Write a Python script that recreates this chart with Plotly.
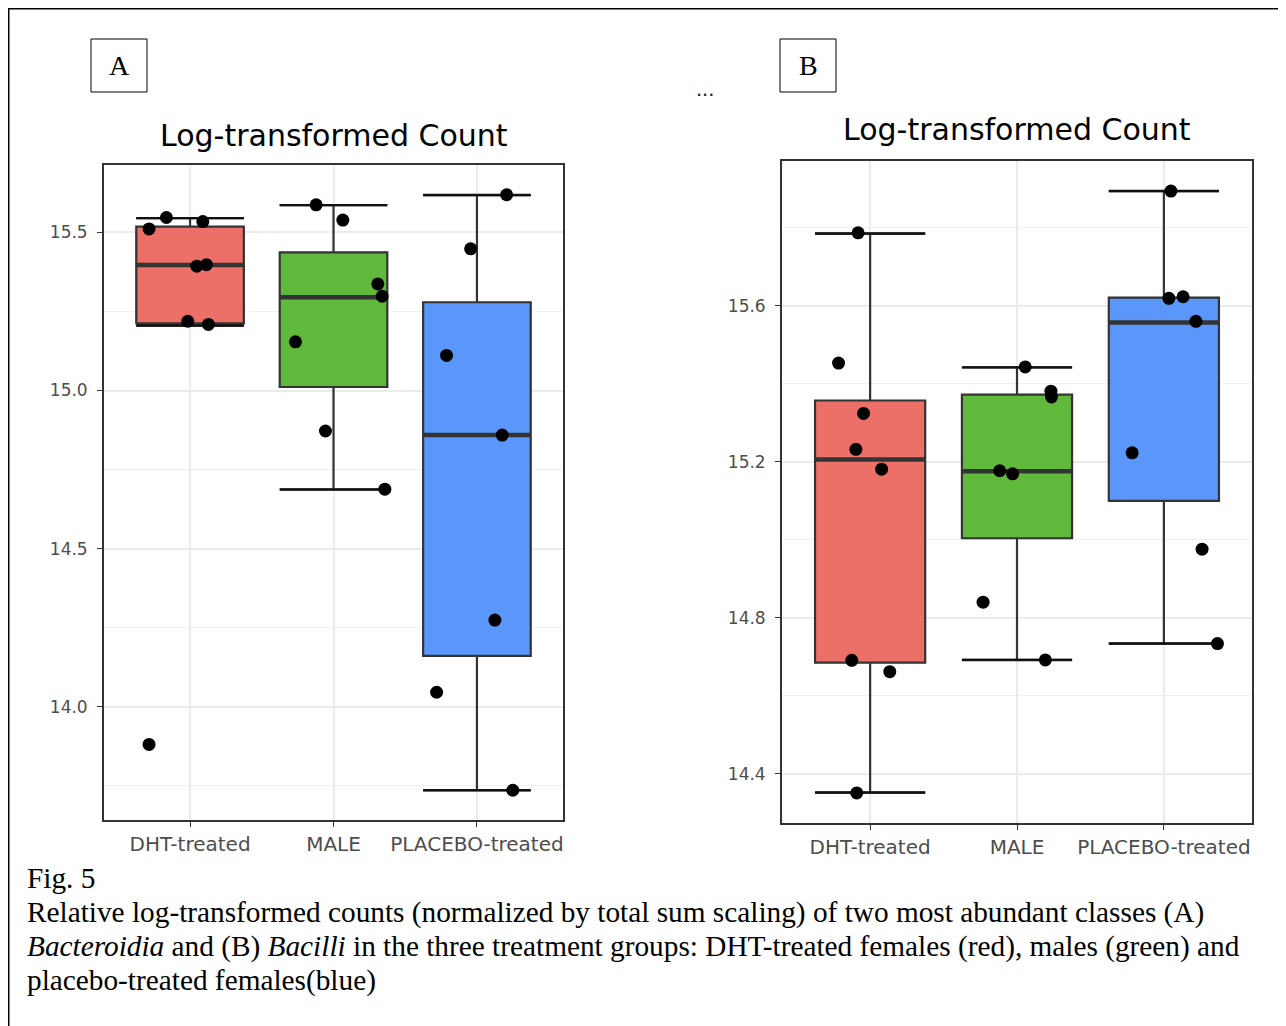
import plotly.graph_objects as go

# The page body adds an 8px margin, so the figure is drawn in a frame offset by 8px.
OFF = 8
W, H = 1286 - OFF, 1026 - OFF

categories = ["DHT-treated", "MALE", "PLACEBO-treated"]
fill_colors = ["#EC7068", "#60B93B", "#5B97FA"]

# ---- Panel A (Bacteroidia) ----
a_q1 = [15.212, 15.011, 14.161]
a_median = [15.397, 15.295, 14.859]
a_q3 = [15.518, 15.437, 15.279]
a_lower = [15.205, 14.687, 13.736]
a_upper = [15.545, 15.586, 15.618]
a_points = [
    [15.511, 15.547, 15.534, 15.393, 15.398, 15.219, 15.209, 13.881],
    [15.587, 15.539, 15.337, 15.298, 15.154, 14.872, 14.688],
    [15.619, 15.448, 15.111, 14.859, 14.274, 14.046, 13.736],
]
a_jitter = [
    [-0.286, -0.165, 0.089, 0.047, 0.114, -0.016, 0.128, -0.286],
    [-0.121, 0.065, 0.309, 0.339, -0.265, -0.056, 0.358],
    [0.207, -0.044, -0.212, 0.176, 0.125, -0.281, 0.250],
]
a_yticks = [14.0, 14.5, 15.0, 15.5]
a_yticklabels = ["14.0", "14.5", "15.0", "15.5"]
a_yminor = [13.75, 14.25, 14.75, 15.25]
a_yrange = [13.642, 15.713]

# ---- Panel B (Bacilli) ----
b_q1 = [14.685, 15.004, 15.100]
b_median = [15.206, 15.176, 15.557]
b_q3 = [15.357, 15.372, 15.621]
b_lower = [14.352, 14.692, 14.734]
b_upper = [15.785, 15.442, 15.894]
b_points = [
    [15.787, 15.453, 15.324, 15.232, 15.181, 14.691, 14.662, 14.351],
    [15.443, 15.381, 15.366, 15.177, 15.169, 14.840, 14.692],
    [15.894, 15.619, 15.623, 15.560, 15.223, 14.976, 14.734],
]
b_jitter = [
    [-0.082, -0.215, -0.045, -0.097, 0.078, -0.125, 0.134, -0.091],
    [0.056, 0.231, 0.235, -0.118, -0.030, -0.231, 0.193],
    [0.048, 0.034, 0.131, 0.218, -0.216, 0.260, 0.365],
]
b_yticks = [14.4, 14.8, 15.2, 15.6]
b_yticklabels = ["14.4", "14.8", "15.2", "15.6"]
b_yminor = [14.6, 15.0, 15.4, 15.8]
b_yrange = [14.274, 15.971]

panel_title = "Log-transformed Count"
caption_lines = [
    "Fig. 5",
    "Relative log-transformed counts (normalized by total sum scaling) of two most abundant classes (A)",
    "<i>Bacteroidia</i> and (B) <i>Bacilli</i> in the three treatment groups: DHT-treated females (red), males (green) and",
    "placebo-treated females(blue)",
]

BOX_W = 0.75
half = BOX_W / 2


def px(x):
    return (x - OFF) / W


def py(y):
    return 1 - (y - OFF) / H


fig = go.Figure()


def add_panel(xa, ya, q1, med, q3, lo, hi, pts, jit):
    for i in range(3):
        c = i + 1
        fig.add_trace(go.Box(
            x=[c], q1=[q1[i]], median=[med[i]], q3=[q3[i]],
            lowerfence=[lo[i]], upperfence=[hi[i]],
            width=BOX_W, fillcolor=fill_colors[i],
            line=dict(color="#333333", width=2.2), whiskerwidth=1,
            boxpoints=False, xaxis=xa, yaxis=ya, showlegend=False,
            hoverinfo="skip"))
    for i in range(3):
        c = i + 1
        fig.add_trace(go.Scatter(
            x=[c - half, c + half], y=[med[i], med[i]], mode="lines",
            line=dict(color="#333333", width=4.5), xaxis=xa, yaxis=ya,
            showlegend=False, hoverinfo="skip"))
        fig.add_trace(go.Scatter(
            x=[c - half, c + half, None, c - half, c + half],
            y=[lo[i], lo[i], None, hi[i], hi[i]], mode="lines",
            line=dict(color="#111111", width=2.4), xaxis=xa, yaxis=ya,
            showlegend=False, hoverinfo="skip"))
    for i in range(3):
        c = i + 1
        fig.add_trace(go.Scatter(
            x=[c + o for o in jit[i]], y=pts[i], mode="markers",
            marker=dict(color="black", size=13), xaxis=xa, yaxis=ya,
            showlegend=False, hoverinfo="skip"))


add_panel("x", "y", a_q1, a_median, a_q3, a_lower, a_upper, a_points, a_jitter)
add_panel("x2", "y2", b_q1, b_median, b_q3, b_lower, b_upper, b_points, b_jitter)

xtickfont = dict(family="DejaVu Sans", size=20, color="#4D4D4D")
ytickfont = dict(family="DejaVu Sans", size=17, color="#4D4D4D")
common_x = dict(range=[0.4, 3.6], tickmode="array", tickvals=[1, 2, 3],
                ticktext=categories, showgrid=True, gridcolor="#EBEBEB",
                gridwidth=1.6, zeroline=False, showline=True, mirror=True,
                linecolor="#333333", linewidth=1.8, ticks="outside",
                ticklen=5, tickcolor="#333333", tickwidth=1.4,
                tickfont=xtickfont, fixedrange=True)


def yaxis_cfg(rng, tv, tt, minor, anchor):
    return dict(range=rng, tickmode="array", tickvals=tv, ticktext=tt,
                showgrid=True, gridcolor="#EBEBEB", gridwidth=1.6,
                minor=dict(tickvals=minor, showgrid=True, gridcolor="#F0F0F0",
                           gridwidth=1.0, ticks=""),
                zeroline=False, showline=True, mirror=True,
                linecolor="#333333", linewidth=1.8, ticks="outside",
                ticklen=5, tickcolor="#333333", tickwidth=1.4,
                tickfont=ytickfont, ticklabelstandoff=6, anchor=anchor,
                fixedrange=True)


fig.update_layout(
    width=W, height=H, autosize=False,
    margin=dict(l=0, r=0, t=0, b=0),
    paper_bgcolor="white", plot_bgcolor="white",
    showlegend=False,
    xaxis=dict(domain=[px(104), px(563)], anchor="y", **common_x),
    yaxis=yaxis_cfg(a_yrange, a_yticks, a_yticklabels, a_yminor, "x")
    | dict(domain=[py(820), py(165)]),
    xaxis2=dict(domain=[px(782), px(1252)], anchor="y2", **common_x),
    yaxis2=yaxis_cfg(b_yrange, b_yticks, b_yticklabels, b_yminor, "x2")
    | dict(domain=[py(823), py(161)]),
)

annotations = []
shapes = []

# panel titles
for cx, cy in [(333.5, 135), (1016.7, 130)]:
    annotations.append(dict(
        text=panel_title, x=px(cx), y=py(cy), xref="paper", yref="paper",
        xanchor="center", yanchor="middle", showarrow=False,
        font=dict(family="DejaVu Sans", size=30, color="black")))

# panel letter boxes
for letter, x0, x1 in [("A", 91, 147), ("B", 780, 836)]:
    shapes.append(dict(type="rect", xref="paper", yref="paper",
                       x0=px(x0), x1=px(x1), y0=py(92), y1=py(39),
                       line=dict(color="black", width=1)))
    annotations.append(dict(
        text=letter, x=px((x0 + x1) / 2), y=py(66), xref="paper",
        yref="paper", xanchor="center", yanchor="middle", showarrow=False,
        font=dict(family="Liberation Serif", size=28, color="black")))

# small ellipsis between panels
annotations.append(dict(
    text="...", x=px(705), y=py(88), xref="paper", yref="paper",
    xanchor="center", yanchor="middle", showarrow=False,
    font=dict(family="Liberation Sans", size=22, color="#222222")))

# caption
for line, cy in zip(caption_lines, [878, 912, 946, 980]):
    annotations.append(dict(
        text=line, x=px(25), y=py(cy), xref="paper", yref="paper",
        xanchor="left", yanchor="middle", showarrow=False,
        font=dict(family="Liberation Serif", size=29.3, color="black")))

# outer frame (left and top)
shapes.append(dict(type="line", xref="paper", yref="paper",
                   x0=px(8.5), x1=px(8.5), y0=py(7), y1=0,
                   line=dict(color="black", width=2)))
shapes.append(dict(type="line", xref="paper", yref="paper",
                   x0=px(7), x1=1, y0=py(8.5), y1=py(8.5),
                   line=dict(color="black", width=2)))

fig.update_layout(annotations=annotations, shapes=shapes)

fig.write_html("out.html")
